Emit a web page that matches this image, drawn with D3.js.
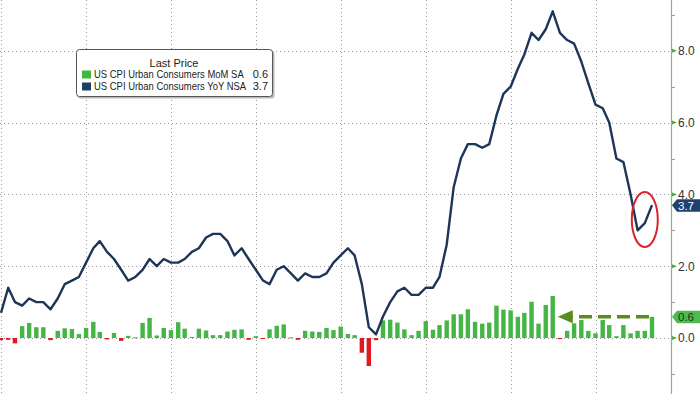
<!DOCTYPE html>
<html>
<head>
<meta charset="utf-8">
<script src="https://cdn.jsdelivr.net/npm/d3@7"></script>
<style>
  body { margin: 0; background: #fff; }
  svg { display: block; font-family: "Liberation Sans", Arial, sans-serif; }
</style>
</head>
<body>
<div id="chart"></div>
<script>
// monthly, Dec 2015 .. Aug 2023 (Bloomberg dates each month at month end)
var firstMonth = new Date(2015, 11, 1),
    lastMonth = new Date(2023, 7, 1);

// US CPI YoY NSA
var yoyValues = [
  0.7,
  1.4, 1.0, 0.9, 1.1, 1.0, 1.0, 0.8, 1.1, 1.5, 1.6, 1.7, 2.1,
  2.5, 2.7, 2.4, 2.2, 1.9, 1.6, 1.7, 1.9, 2.2, 2.0, 2.2, 2.1,
  2.1, 2.2, 2.4, 2.5, 2.8, 2.9, 2.9, 2.7, 2.3, 2.5, 2.2, 1.9,
  1.6, 1.5, 1.9, 2.0, 1.8, 1.6, 1.8, 1.7, 1.7, 1.8, 2.1, 2.3,
  2.5, 2.3, 1.5, 0.3, 0.1, 0.6, 1.0, 1.3, 1.4, 1.2, 1.2, 1.4,
  1.4, 1.7, 2.6, 4.2, 5.0, 5.4, 5.4, 5.3, 5.4, 6.2, 6.8, 7.0,
  7.5, 7.9, 8.5, 8.3, 8.6, 9.1, 8.5, 8.3, 8.2, 7.7, 7.1, 6.5,
  6.4, 6.0, 5.0, 4.9, 4.0, 3.0, 3.2, 3.7
];

// US CPI MoM SA
var momValues = [
  -0.06,
  -0.05, -0.15, 0.33, 0.42, 0.3, 0.3, -0.06, 0.2, 0.27, 0.25, 0.11, 0.28,
  0.45, 0.17, -0.04, 0.14, -0.08, 0.06, 0.02, 0.42, 0.56, 0.07, 0.28, 0.22,
  0.44, 0.26, 0.03, 0.26, 0.21, 0.08, 0.08, 0.18, 0.23, 0.24, -0.05, 0.05,
  -0.02, 0.24, 0.34, 0.38, 0.02, -0.05, 0.2, 0.18, 0.17, 0.28, 0.22, 0.32,
  0.11, 0.08, -0.41, -0.78, -0.06, 0.49, 0.51, 0.43, 0.24, 0.08, 0.2, 0.47,
  0.23, 0.36, 0.49, 0.66, 0.66, 0.8, 0.45, 0.4, 0.43, 0.9, 0.79, 0.77,
  0.59, 0.7, 1.01, 0.4, 0.92, 1.17, -0.03, 0.2, 0.41, 0.5, 0.2, 0.13,
  0.5, 0.36, 0.05, 0.36, 0.13, 0.2, 0.2, 0.59
];

var yTicks = [0, 2, 4, 6, 8];
var yMinorTicks = [-1, 1, 3, 5, 7, 9];
var legendTitle = "Last Price";
var seriesNames = ["US CPI Urban Consumers MoM SA", "US CPI Urban Consumers YoY NSA"];
var lastLabels = ["0.6", "3.7"];

var width = 700, height = 394, axisX = 671;
var navy = "#1d3657", green = "#45b545", red = "#e0191e", axisGreen = "#74c274";

var months = d3.timeMonth.range(firstMonth, d3.timeMonth.offset(lastMonth, 1));
var monthEnd = function(m) { return d3.timeDay.offset(d3.timeMonth.offset(m, 1), -1); };
var data = months.map(function(m, i) {
  return { date: monthEnd(m), yoy: yoyValues[i], mom: momValues[i] };
});

var svg = d3.select("#chart").append("svg")
  .attr("width", width)
  .attr("height", height);

var x = d3.scaleTime()
  .domain([data[0].date, data[data.length - 1].date])
  .range([1, 652]);

var y = d3.scaleLinear()
  .domain([0, 8])
  .range([338, 50.8]);

// grid
var grid = svg.append("g").attr("stroke", "#9a9a9a").attr("stroke-dasharray", "1,3");
grid.selectAll(".hg").data(yTicks).enter().append("line")
  .attr("x1", 0).attr("x2", axisX)
  .attr("y1", function(d) { return Math.round(y(d)) + 0.5; })
  .attr("y2", function(d) { return Math.round(y(d)) + 0.5; });
grid.selectAll(".vg").data(d3.timeYear.range(new Date(2016, 0, 1), new Date(2023, 0, 2))).enter().append("line")
  .attr("x1", function(d) { return Math.round(x(d)) + 0.5; })
  .attr("x2", function(d) { return Math.round(x(d)) + 0.5; })
  .attr("y1", 0).attr("y2", height);

// MoM bars
var bw = 4.4;
svg.append("g").selectAll("rect").data(data).enter().append("rect")
  .attr("x", function(d) { return x(d.date) - bw / 2; })
  .attr("y", function(d) { return y(Math.max(0, d.mom)); })
  .attr("width", bw)
  .attr("height", function(d) { return Math.max(1, Math.abs(y(d.mom) - y(0))); })
  .attr("fill", function(d) { return d.mom < 0 ? red : green; });

// YoY line
svg.append("path")
  .datum(data)
  .attr("fill", "none")
  .attr("stroke", navy)
  .attr("stroke-width", 2.4)
  .attr("stroke-linejoin", "round")
  .attr("d", d3.line().x(function(d) { return x(d.date); }).y(function(d) { return y(d.yoy); }));

// red circle around the last three months
var tail = data.slice(-3);
svg.append("ellipse")
  .attr("cx", d3.mean(tail, function(d) { return x(d.date); }))
  .attr("cy", d3.mean(tail, function(d) { return y(d.yoy); }))
  .attr("rx", 13).attr("ry", 27.5)
  .attr("fill", "none")
  .attr("stroke", "#d8232a")
  .attr("stroke-width", 2);

// dashed arrow back to the Jun 2022 bar
var last = data[data.length - 1], peak = data[78];
var ay = y(last.mom), tipX = x(peak.date) + 5, headLen = 15;
var olive = "#5b8b1d";
svg.append("line")
  .attr("x1", x(last.date) - 3).attr("x2", tipX + headLen - 1)
  .attr("y1", ay).attr("y2", ay)
  .attr("stroke", olive).attr("stroke-width", 3.6)
  .attr("stroke-dasharray", "13,6");
svg.append("path")
  .attr("d", "M" + tipX + "," + ay + "L" + (tipX + headLen) + "," + (ay - 6.5) + "L" + (tipX + headLen) + "," + (ay + 6.5) + "Z")
  .attr("fill", olive);

// right axis
var ax = svg.append("g");
ax.append("line")
  .attr("x1", axisX + 0.5).attr("x2", axisX + 0.5)
  .attr("y1", 0).attr("y2", height)
  .attr("stroke", axisGreen).attr("stroke-width", 1.2);
ax.selectAll(".mt").data(yMinorTicks).enter().append("line")
  .attr("x1", axisX + 1).attr("x2", axisX + 4)
  .attr("y1", function(d) { return Math.round(y(d)) + 0.5; })
  .attr("y2", function(d) { return Math.round(y(d)) + 0.5; })
  .attr("stroke", "#999");
ax.selectAll(".tk").data(yTicks).enter().append("path")
  .attr("d", function(d) {
    var yy = y(d);
    return "M" + (axisX + 1) + "," + (yy - 2) + "L" + (axisX + 6) + "," + yy + "L" + (axisX + 1) + "," + (yy + 2) + "Z";
  })
  .attr("fill", "#4aa94a");
ax.selectAll("text").data(yTicks).enter().append("text")
  .attr("x", axisX + 7)
  .attr("y", function(d) { return y(d); })
  .attr("dy", "0.36em")
  .attr("font-size", 12)
  .attr("fill", "#333")
  .text(function(d) { return d3.format(".1f")(d); });

// last value tags
function tag(v, fill, textFill, label) {
  var yy = y(v);
  svg.append("path")
    .attr("d", "M" + (axisX + 1) + "," + yy + "L" + (axisX + 6) + "," + (yy - 6) + "L" + width + "," + (yy - 6) +
      "L" + width + "," + (yy + 6.5) + "L" + (axisX + 6) + "," + (yy + 6.5) + "Z")
    .attr("fill", fill);
  svg.append("text")
    .attr("x", axisX + 7).attr("y", yy).attr("dy", "0.4em")
    .attr("font-size", 11.5).attr("fill", textFill)
    .text(label);
}
tag(last.yoy, "#1f4170", "#fff", lastLabels[1]);
tag(last.mom, "#4dbb4d", "#1a3a1a", lastLabels[0]);

// legend
var lg = svg.append("g").attr("transform", "translate(76,49)");
lg.append("rect").attr("x", 1.5).attr("y", 1.5).attr("width", 197).attr("height", 48).attr("rx", 3)
  .attr("fill", "#bbb");
lg.append("rect").attr("x", 0.5).attr("y", 0.5).attr("width", 196).attr("height", 47).attr("rx", 3)
  .attr("fill", "#fff").attr("stroke", "#555");
lg.append("text").attr("x", 98).attr("y", 18).attr("text-anchor", "middle")
  .attr("font-size", 11).attr("fill", "#222").text(legendTitle);
[green, navy].forEach(function(c, i) {
  var yy = 25 + i * 12;
  lg.append("rect").attr("x", 6).attr("y", yy - 3.5).attr("width", 9).attr("height", 8).attr("fill", c === green ? "#3fb83f" : "#1f4066");
  lg.append("text")
    .attr("transform", "translate(18," + (yy + 4) + ") scale(0.86,1)")
    .attr("font-size", 11).attr("fill", "#222")
    .text(seriesNames[i]);
  lg.append("text").attr("x", 192).attr("y", yy + 4).attr("text-anchor", "end").attr("font-size", 11).attr("fill", "#222").text(lastLabels[i]);
});
</script>
</body>
</html>
